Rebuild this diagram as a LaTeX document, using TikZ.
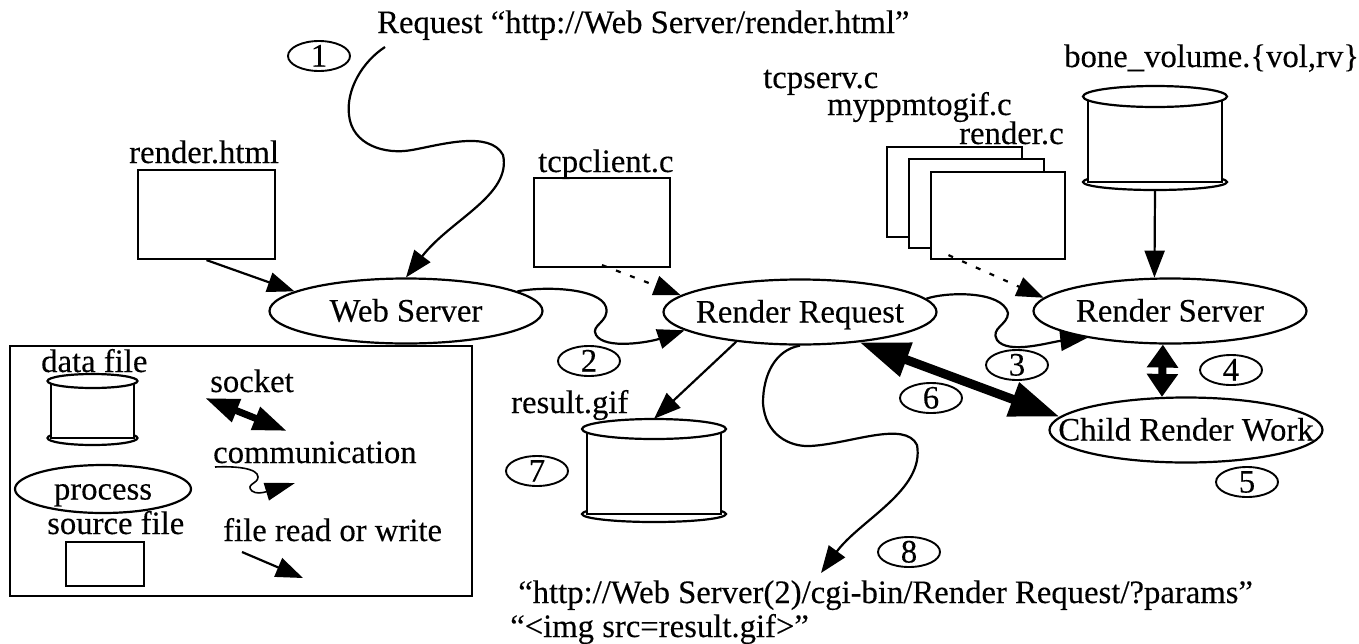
\documentclass[tikz,border=0pt]{standalone}
\usepackage{fontspec}
\setmainfont{Liberation Serif}[FakeBold=0.25]
\usetikzlibrary{arrows.meta,shapes.geometric}
\tikzset{
  ln/.style={line width=2.2pt,black},
  proc/.style={ellipse,ln,draw,fill=white,inner sep=0pt,minimum width=273pt,minimum height=65pt},
  numb/.style={ellipse,draw,line width=1.9pt,inner sep=0pt,minimum width=62pt,minimum height=30pt},
  filebox/.style={rectangle,ln,draw,fill=white,inner sep=0pt},
  lbl/.style={anchor=base west,inner sep=0pt,font=\fontsize{32.7}{36}\selectfont},
  conn/.style={ln,-{Triangle[length=27pt,width=20pt]}},
  dconn/.style={ln,dash pattern=on 5pt off 10pt,-{Triangle[length=27pt,width=20pt]}},
  sock/.style={line width=8pt,{Triangle[length=23pt,width=30pt]}-{Triangle[length=23pt,width=30pt]}},
  bigsock/.style={line width=9pt,{Triangle[length=50pt,width=34pt]}-{Triangle[length=50pt,width=34pt]}},
  smallsock/.style={line width=7pt,{Triangle[length=34pt,width=23pt]}-{Triangle[length=34pt,width=23pt]}}
}
\newcommand{\ctext}[1]{\fontsize{32.7}{36}\selectfont\smash{\raisebox{-10.5pt}{\makebox[0pt]{#1}}}}
% name, cx, ytop (ellipse top), ytopbottom, ybody, ylip, rx, bodyhalf
\newcommand{\cylnode}[8]{%
  \draw[ln] (#2,#5) ellipse [x radius=#7,y radius=#6-#5];
  \fill[white] (#2-#8,#4-10) rectangle (#2+#8,#5);
  \draw[ln] (#2-#8,#3+10) -- (#2-#8,#5) -- (#2+#8,#5) -- (#2+#8,#3+10);
  \draw[ln,fill=white] (#2,{(#3+#4)/2}) ellipse [x radius=#7,y radius={(#4-#3)/2}];
  \node[inner sep=0pt,minimum width=2*#7 pt,minimum height=#6 pt-#3 pt] (#1) at (#2,{(#3+#6)/2}) {};
}
\begin{document}
\begin{tikzpicture}[x=1pt,y=-1pt]
\useasboundingbox[fill=white] (0,0) rectangle (1359,643);

% files
\node[filebox,minimum width=137pt,minimum height=89pt] (rh) at (206.5,214.5) {};
\node[filebox,minimum width=136pt,minimum height=89pt] (tc) at (602,222.5) {};
\node[filebox,minimum width=135pt,minimum height=90pt] (s1) at (954.5,192) {};
\node[filebox,minimum width=135pt,minimum height=89pt] (s2) at (976.5,203.5) {};
\node[filebox,minimum width=134pt,minimum height=87pt] (s3) at (998,215.5) {};

% cylinders
\cylnode{bone}{1155}{86}{107}{182}{190}{72}{67}
\cylnode{res}{654}{419}{439}{514}{522}{72}{67}

% processes
\node[proc] (ws) at (406,311) {\ctext{Web Server}};
\node[proc] (rr) at (800,312) {\ctext{Render Request}};
\node[proc] (rs) at (1170,311) {\ctext{Render Server}};
\node[proc] (cw) at (1186,430) {\ctext{Child Render Work}};

% numbers
\node[numb] (n1) at (319,56) {\ctext{1}};
\node[numb] (n2) at (589,361) {\ctext{2}};
\node[numb] (n3) at (1017,365) {\ctext{3}};
\node[numb] (n4) at (1231,370) {\ctext{4}};
\node[numb] (n5) at (1247,482) {\ctext{5}};
\node[numb] (n6) at (931,398) {\ctext{6}};
\node[numb] (n7) at (537,471) {\ctext{7}};
\node[numb] (n8) at (909,552) {\ctext{8}};

% labels
\node[lbl] (t1) at (377,33) {Request “http://Web Server/render.html”};
\node[lbl] (t2) at (129,163) {render.html};
\node[lbl] (t3) at (538,172) {tcpclient.c};
\node[lbl] (t4) at (763,88) {tcpserv.c};
\node[lbl] (t5) at (827,115) {myppmtogif.c};
\node[lbl] (t6) at (959,144) {render.c};
\node[lbl] (t7) at (1064,67) {bone\_volume.\{vol,rv\}};
\node[lbl] (t8) at (511,413) {result.gif};
\node[lbl] (t9) at (518,603) {“http://Web Server(2)/cgi-bin/Render Request/?params”};
\node[lbl] (t10) at (510,637) {“<img src=result.gif>”};

% free ends
\coordinate (c1) at (385,47);
\coordinate (c8) at (821,573);

% connectors
\draw[conn] (c1) .. controls (362,62) and (346,90) .. (349,115)
  .. controls (352,145) and (385,155) .. (412,150)
  .. controls (440,145) and (490,130) .. (503,155)
  .. controls (512,195) and (450,220) .. (ws.north);
\draw[conn] (rh.south) -- (ws.170);
\draw[dconn] ([yshift=3pt]tc.south) -- (rr.172);
\draw[conn] (ws.10) .. controls (545,286) and (600,288) .. (606,307)
  .. controls (610,322) and (590,325) .. (596,335)
  .. controls (605,350) and (650,342) .. (rr.189);
\draw[conn] (rr.6) .. controls (945,292) and (1002,290) .. (1008,313)
  .. controls (1008,325) and (990,328) .. (997,340)
  .. controls (1008,355) and (1050,342) .. (rs.198);
\draw[dconn] ([yshift=5pt]s3.222) -- (rs.174);
\draw[conn] (bone.south) -- (rs.115);
\draw[sock] (rs.258) -- (cw.126);
\draw[bigsock] (rr.333) -- (cw.174);
\draw[conn] (rr.205) -- (res.north);
\draw[conn] (rr.south) .. controls (775,350) and (763,375) .. (763,403)
  .. controls (765,435) and (790,447) .. (810,446)
  .. controls (850,444) and (905,420) .. (917,445)
  .. controls (925,490) and (860,520) .. (c8);

% legend
\node[rectangle,ln,draw,inner sep=0pt,minimum width=462pt,minimum height=250pt] (legend) at (241,471) {};
\cylnode{ld}{92.5}{374}{388}{438}{445}{45}{41.5}
\node[proc,minimum width=176pt,minimum height=48pt] (lp) at (103,489) {\ctext{process}};
\node[filebox,minimum width=78pt,minimum height=44pt] (ls) at (105,564) {};
\node[lbl] (l1) at (41,372) {data file};
\node[lbl] (l2) at (210,392) {socket};
\node[lbl] (l3) at (213,463) {communication};
\node[lbl] (l4) at (47,534) {source file};
\node[lbl] (l5) at (223,541) {file read or write};
\coordinate (a1) at (205,398);
\coordinate (a2) at (287,431);
\coordinate (b1) at (215,467);
\coordinate (b2) at (295,483);
\coordinate (d1) at (242,552);
\coordinate (d2) at (303,578);
\draw[smallsock] (a1) -- (a2);
\draw[ln,line width=1.6pt,-{Triangle[length=30pt,width=18pt]}] (b1) .. controls (235,466) and (258,468) .. (258,477)
  .. controls (258,484) and (245,484) .. (252,491)
  .. controls (256,494) and (262,493) .. (b2);
\draw[conn] (d1) -- (d2);
\end{tikzpicture}
\end{document}
